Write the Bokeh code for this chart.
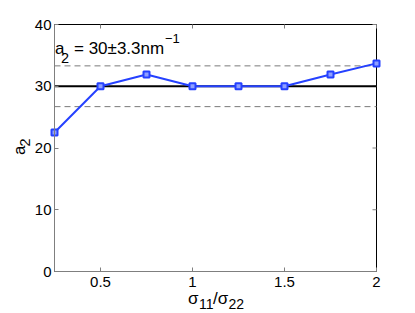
import math
from bokeh.plotting import figure
from bokeh.models import Label, FixedTicker, LinearAxis, Range1d
from bokeh.embed import file_html
from bokeh.resources import INLINE

ratio = [0.25, 0.5, 0.75, 1.0, 1.25, 1.5, 1.75, 2.0]
a2 = [22.5, 30.0, 31.9, 30.0, 30.0, 30.0, 31.9, 33.7]
mean_val = 30.0
std_val = 3.3
x_ticks = [0.5, 1, 1.5, 2]
y_ticks = [0, 10, 20, 30, 40]
x_lo, x_hi = 0.25, 2.0
y_lo, y_hi = 0, 40

FONT = "Liberation Sans"
W, H = 414, 312          # canvas size
FW, FH = 322, 247        # plot box size in px
BL, BT = 54, 24          # plot box offset in px from canvas top-left

ux = (x_hi - x_lo) / FW
uy = (y_hi - y_lo) / FH

p = figure(width=W, height=H, output_backend="svg", toolbar_location=None,
           x_range=Range1d(x_lo - BL * ux, x_lo + (W - BL) * ux),
           y_range=Range1d(y_hi - (H - BT) * uy, y_hi + BT * uy),
           x_axis_type=None, y_axis_type=None, min_border=0)
p.background_fill_color = "white"
p.border_fill_color = "white"
p.outline_line_color = None
p.grid.visible = False

# plot box
p.quad(left=[x_lo], right=[x_hi], bottom=[y_lo], top=[y_hi], fill_color=None,
       line_color="black", line_width=1)

xaxis = LinearAxis(ticker=FixedTicker(ticks=x_ticks), fixed_location=y_lo,
                   bounds=(x_lo, x_hi))
yaxis = LinearAxis(ticker=FixedTicker(ticks=y_ticks), fixed_location=x_lo,
                   bounds=(y_lo, y_hi))
for ax in (xaxis, yaxis):
    ax.major_tick_in = 4
    ax.major_tick_out = 0
    ax.minor_tick_in = 0
    ax.minor_tick_out = 0
    ax.axis_line_color = "#7f7f7f"
    ax.major_tick_line_color = "#7f7f7f"
    ax.major_label_text_font = FONT
    ax.major_label_text_font_size = "15px"
    ax.major_label_text_color = "black"
xaxis.major_label_standoff = 5
yaxis.major_label_standoff = 3
p.add_layout(xaxis, "below")
p.add_layout(yaxis, "left")

# mirrored ticks on top and right edges (4 px long)
p.segment(x0=x_ticks, y0=[y_hi] * len(x_ticks), x1=x_ticks, y1=[y_hi - 4 * uy] * len(x_ticks),
          line_color="#7f7f7f", line_width=1)
p.segment(x0=[x_hi] * len(y_ticks), y0=y_ticks, x1=[x_hi - 4 * ux] * len(y_ticks), y1=y_ticks,
          line_color="#7f7f7f", line_width=1)

# mean and +/- std reference lines
p.line([x_lo, x_hi], [mean_val, mean_val], line_color="black", line_width=2)
p.line([x_lo, x_hi], [mean_val + std_val] * 2, line_color="#7a7a7a", line_width=1,
       line_dash="6 4")
p.line([x_lo, x_hi], [mean_val - std_val] * 2, line_color="#7a7a7a", line_width=1,
       line_dash="6 4")

p.line(ratio, a2, line_color="#2541ff", line_width=2)
p.scatter(ratio, a2, marker="square", size=6, line_color="#2541ff", line_width=2,
          fill_color="#8fa0ff")


def put(text, px, py, size, angle=0.0):
    # px, py: canvas pixel position of the text anchor (left end of baseline)
    xd = x_lo + (px - BL) * ux
    yd = y_lo + (BT + FH - py) * uy
    p.add_layout(Label(x=xd, y=yd, text=text,
                       text_font=FONT, text_font_size=f"{size}px", text_color="black",
                       text_align="left", text_baseline="alphabetic", angle=angle))


# annotation: a_2 = 30±3.3nm^-1
put("a", 54.5, 48.3, 17)
put("2", 60.5, 57.5, 14.5)
put("= 30±3.3nm", 73.5, 48.3, 17)
put("−1", 164.5, 38, 13)

# x axis label: sigma_11 / sigma_22
put("σ", 187.5, 298, 17)
put("11", 198.5, 303, 14)
put("/σ", 212.5, 298, 17)
put("22", 228, 303, 14)

# y axis label: a_2 (rotated)
put("a", 18.5, 154.5, 17, math.pi / 2)
put("2", 24.5, 146, 14.5, math.pi / 2)

open("out.html", "w").write(file_html(p, INLINE))
